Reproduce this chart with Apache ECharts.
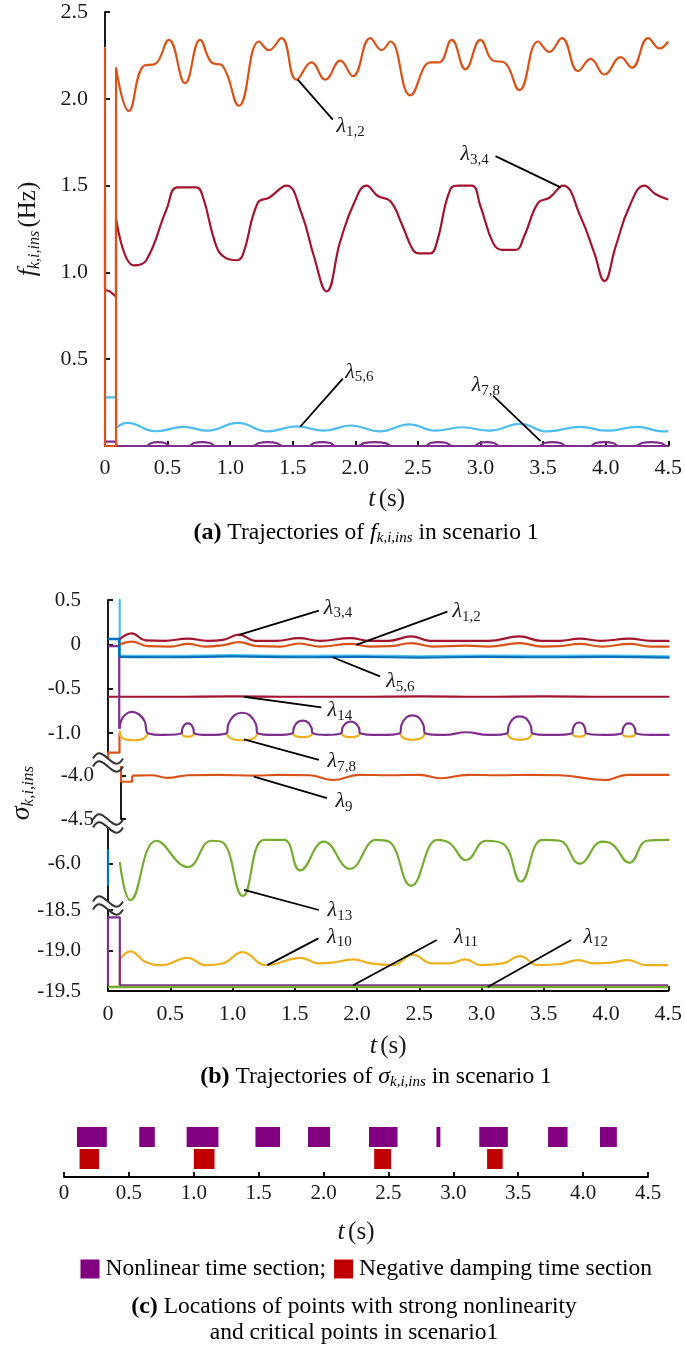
<!DOCTYPE html>
<html>
<head>
<meta charset="utf-8">
<script src="https://cdn.jsdelivr.net/npm/echarts@6/dist/echarts.min.js"></script>
<style>html,body{margin:0;padding:0;background:#fff}#c{width:685px;height:1348px}</style>
</head>
<body>
<div id="c"></div>
<script>
// ---------------- DATA ----------------
const timeTicks = [0, 0.5, 1.0, 1.5, 2.0, 2.5, 3.0, 3.5, 4.0, 4.5];
const fTicks = [0.5, 1.0, 1.5, 2.0, 2.5];
const sigTicksA = [0.5, 0, -0.5, -1.0];
const sigTicksB = [-4.0, -4.5];
const sigTicksC = [-6.0];
const sigTicksD = [-18.5, -19.0, -19.5];

// (a) f_{k,i,ins}
const f12Start = [[0,2.3],[0,0],[0.088,0],[0.088,2.18]];
const f12 = [[0.088,2.18],[0.19,1.93],[0.31,2.19],[0.40,2.20],[0.51,2.34],[0.64,2.09],[0.76,2.34],[0.85,2.21],[0.94,2.19],[1.07,1.96],[1.23,2.33],[1.31,2.28],[1.41,2.35],[1.53,2.11],[1.65,2.21],[1.76,2.11],[1.88,2.22],[1.98,2.13],[2.12,2.35],[2.21,2.28],[2.28,2.33],[2.44,2.02],[2.60,2.21],[2.67,2.21],[2.77,2.34],[2.88,2.17],[3.00,2.34],[3.10,2.22],[3.19,2.21],[3.31,2.05],[3.46,2.33],[3.55,2.27],[3.65,2.35],[3.78,2.16],[3.88,2.23],[3.99,2.14],[4.12,2.24],[4.21,2.18],[4.34,2.35],[4.43,2.29],[4.50,2.33]];
const f34Start = [[0,1.4],[0,0.9],[0.04,0.89],[0.088,0.86],[0.088,1.31]];
const f34 = [[0.088,1.31],[0.23,1.04],[0.33,1.07],[0.49,1.36],[0.58,1.49],[0.73,1.49],[0.78,1.44],[0.89,1.15],[0.96,1.085],[1.05,1.07],[1.10,1.10],[1.22,1.40],[1.31,1.43],[1.45,1.50],[1.57,1.34],[1.67,1.09],[1.77,0.89],[1.88,1.18],[1.99,1.40],[2.09,1.50],[2.18,1.44],[2.28,1.41],[2.37,1.28],[2.46,1.13],[2.51,1.11],[2.60,1.11],[2.65,1.17],[2.76,1.48],[2.83,1.50],[2.93,1.50],[3.00,1.38],[3.10,1.17],[3.17,1.13],[3.28,1.13],[3.35,1.21],[3.46,1.40],[3.55,1.43],[3.66,1.50],[3.80,1.32],[3.91,1.11],[3.99,0.95],[4.08,1.15],[4.19,1.38],[4.31,1.50],[4.40,1.45],[4.50,1.42]];
const f56Start = [[0,0.09],[0,0.28],[0.09,0.28],[0.09,0.105]];
const f56 = [[0.09,0.105],[0.18,0.133],[0.40,0.085],[0.63,0.11],[0.82,0.088],[1.06,0.133],[1.30,0.084],[1.53,0.113],[1.75,0.088],[1.96,0.118],[2.20,0.084],[2.43,0.125],[2.64,0.088],[2.85,0.108],[3.07,0.088],[3.32,0.127],[3.53,0.084],[3.80,0.11],[4.01,0.088],[4.25,0.11],[4.46,0.084],[4.50,0.086]];
const f78Start = [[0,0],[0,0.025],[0.09,0.025],[0.09,0]];
const f78Flat = [[0,0],[4.5,0]];
const f78 = [[0.09,0],[0.33,0],[0.37,0.017],[0.425,0.022],[0.48,0.017],[0.52,0],[0.67,0],[0.71,0.017],[0.775,0.022],[0.84,0.017],[0.88,0],[1.18,0],[1.23,0.017],[1.30,0.022],[1.37,0.017],[1.42,0],[1.63,0],[1.67,0.017],[1.735,0.022],[1.80,0.017],[1.84,0],[2.02,0],[2.07,0.017],[2.155,0.022],[2.24,0.017],[2.29,0],[2.56,0],[2.60,0.017],[2.665,0.022],[2.73,0.017],[2.77,0],[2.95,0],[2.99,0.017],[3.05,0.022],[3.11,0.017],[3.15,0],[3.47,0],[3.51,0.017],[3.575,0.022],[3.64,0.017],[3.68,0],[3.88,0],[3.92,0.017],[3.99,0.022],[4.06,0.017],[4.10,0],[4.24,0],[4.29,0.017],[4.365,0.022],[4.44,0.017],[4.49,0],[4.5,0]];

// (b) sigma_{k,i,ins} — segment A (0.5 .. -1.28)
const s34 = [[0.094,0.06],[0.19,0.125],[0.30,0.045],[0.45,0.04],[0.64,0.065],[0.80,0.04],[0.92,0.05],[1.05,0.11],[1.18,0.04],[1.35,0.04],[1.53,0.07],[1.70,0.04],[1.94,0.07],[2.10,0.04],[2.25,0.04],[2.43,0.09],[2.58,0.04],[2.85,0.04],[3.05,0.04],[3.30,0.09],[3.47,0.04],[3.62,0.04],[3.78,0.065],[3.95,0.04],[4.18,0.065],[4.35,0.04],[4.5,0.04]];
const s12 = [[0.094,0.0],[0.19,0.03],[0.32,-0.02],[0.50,-0.025],[0.64,0.005],[0.78,-0.025],[0.92,-0.01],[1.05,0.025],[1.20,-0.02],[1.38,-0.025],[1.53,0.01],[1.70,-0.025],[1.94,0.005],[2.10,-0.025],[2.27,-0.02],[2.43,0.015],[2.60,-0.025],[2.87,-0.015],[3.05,-0.025],[3.30,0.015],[3.48,-0.025],[3.62,-0.02],[3.78,0.005],[3.96,-0.025],[4.18,0.005],[4.35,-0.025],[4.5,-0.025]];
const s56Start = [[0,0.06],[0.09,0.06],[0.09,-0.14]];
const s56 = [[0.09,-0.14],[0.5,-0.145],[1.0,-0.135],[1.5,-0.145],[2.0,-0.14],[2.5,-0.15],[3.0,-0.14],[3.5,-0.145],[4.0,-0.14],[4.5,-0.15]];
const s56b = [[0.094,0.6],[0.094,-0.125],[0.5,-0.13],[1.0,-0.12],[1.5,-0.13],[2.0,-0.125],[2.5,-0.135],[3.0,-0.125],[3.5,-0.13],[4.0,-0.125],[4.5,-0.135]];
const s14 = [[0,-0.59],[0.5,-0.59],[1.0,-0.585],[1.5,-0.59],[2.0,-0.59],[2.5,-0.585],[3.0,-0.59],[3.5,-0.585],[4.0,-0.59],[4.5,-0.59]];
const s78Start = [[0,-0.02],[0.09,-0.02],[0.09,-0.95]];
const s78 = [
  [0.094,-0.95],[0.105,-0.86],[0.14,-0.79],[0.19,-0.76],[0.25,-0.79],[0.295,-0.87],[0.32,-1.0],[0.32,-1.0],
  [0.45,-1.02],
  [0.59,-1.0],[0.59,-1.0],[0.596,-0.95],[0.615,-0.903],[0.64,-0.89],[0.665,-0.903],[0.684,-0.95],[0.69,-1.0],[0.69,-1.0],
  [0.80,-1.02],
  [0.95,-1.0],[0.95,-1.0],[0.965,-0.897],[1.0125,-0.80],[1.075,-0.77],[1.1375,-0.80],[1.185,-0.897],[1.20,-1.0],[1.20,-1.0],
  [1.34,-1.02],
  [1.48,-1.0],[1.48,-1.0],[1.49,-0.937],[1.52,-0.877],[1.56,-0.86],[1.60,-0.877],[1.63,-0.937],[1.64,-1.0],[1.64,-1.0],
  [1.75,-1.02],
  [1.87,-1.0],[1.87,-1.0],[1.879,-0.94],[1.9075,-0.886],[1.945,-0.87],[1.9825,-0.886],[2.011,-0.94],[2.02,-1.0],[2.02,-1.0],
  [2.18,-1.02],
  [2.34,-1.0],[2.34,-1.0],[2.352,-0.91],[2.39,-0.824],[2.44,-0.80],[2.49,-0.824],[2.528,-0.91],[2.54,-1.0],[2.54,-1.0],
  [2.70,-1.02],[2.87,-0.99],[3.05,-1.02],
  [3.20,-1.0],[3.20,-1.0],[3.212,-0.915],[3.25,-0.833],[3.30,-0.81],[3.35,-0.833],[3.388,-0.915],[3.40,-1.0],[3.40,-1.0],
  [3.55,-1.02],
  [3.72,-1.0],[3.72,-1.0],[3.727,-0.946],[3.7475,-0.894],[3.775,-0.88],[3.8025,-0.894],[3.823,-0.946],[3.83,-1.0],[3.83,-1.0],
  [3.97,-1.02],
  [4.12,-1.0],[4.12,-1.0],[4.127,-0.95],[4.1475,-0.903],[4.175,-0.89],[4.2025,-0.903],[4.223,-0.95],[4.23,-1.0],[4.23,-1.0],
  [4.35,-1.02],[4.5,-1.02]];
const s78Low = [
  [0.094,-0.97],[0.11,-1.05],[0.16,-1.075],[0.21,-1.08],[0.27,-1.07],[0.30,-1.045],[0.32,-1.0],[0.45,'-'],
  [0.59,-1.0],[0.60,-1.025],[0.615,-1.037],[0.64,-1.04],[0.665,-1.037],[0.68,-1.025],[0.69,-1.0],[0.8,'-'],
  [0.95,-1.0],[0.975,-1.05],[1.025,-1.075],[1.075,-1.08],[1.125,-1.075],[1.175,-1.05],[1.20,-1.0],[1.3,'-'],
  [1.48,-1.0],[1.496,-1.028],[1.528,-1.042],[1.56,-1.045],[1.592,-1.042],[1.624,-1.028],[1.64,-1.0],[1.75,'-'],
  [1.87,-1.0],[1.885,-1.028],[1.915,-1.042],[1.945,-1.045],[1.975,-1.042],[2.005,-1.028],[2.02,-1.0],[2.2,'-'],
  [2.34,-1.0],[2.36,-1.047],[2.40,-1.07],[2.44,-1.075],[2.48,-1.07],[2.52,-1.047],[2.54,-1.0],[2.9,'-'],
  [3.20,-1.0],[3.22,-1.047],[3.26,-1.07],[3.30,-1.075],[3.34,-1.07],[3.38,-1.047],[3.40,-1.0],[3.55,'-'],
  [3.72,-1.0],[3.731,-1.025],[3.753,-1.037],[3.775,-1.04],[3.797,-1.037],[3.819,-1.025],[3.83,-1.0],[4.0,'-'],
  [4.12,-1.0],[4.131,-1.025],[4.153,-1.037],[4.175,-1.04],[4.197,-1.037],[4.219,-1.025],[4.23,-1.0]];
const s9StartA = [[0,-1.5],[0,-1.22],[0.092,-1.22],[0.092,-1.0]];
// segment B (-3.9 .. -4.5)
const s9Start = [[0,-3.85],[0,-4.07],[0.092,-4.07],[0.092,-4.0]];
const s9 = [[0.092,-4.0],[0.25,-3.995],[0.38,-4.025],[0.55,-3.995],[0.8,-3.99],[1.1,-4.0],[1.3,-3.99],[1.55,-3.995],[1.74,-4.05],[1.95,-3.99],[2.2,-3.995],[2.45,-3.99],[2.62,-4.03],[2.85,-3.99],[3.1,-3.995],[3.35,-3.99],[3.6,-3.995],[3.97,-4.05],[4.15,-3.99],[4.5,-3.99]];
// segment C (-5.58 .. -6.44)
const s56C = [[0,-5.83],[0,-6.26]];
const s13 = [[0.095,-5.98],[0.18,-6.43],[0.39,-5.73],[0.64,-6.04],[0.83,-5.73],[0.92,-5.75],[1.08,-6.38],[1.25,-5.72],[1.41,-5.72],[1.54,-6.08],[1.73,-5.74],[1.94,-6.06],[2.15,-5.72],[2.25,-5.74],[2.43,-6.26],[2.64,-5.72],[2.74,-5.76],[2.87,-5.96],[3.03,-5.73],[3.17,-5.77],[3.31,-6.21],[3.48,-5.72],[3.62,-5.73],[3.78,-6.0],[3.96,-5.74],[4.04,-5.77],[4.18,-5.99],[4.32,-5.73],[4.48,-5.72],[4.5,-5.72]];
// segment D (-18.5 .. -19.5)
const s10Start = [[0,-19.45],[0.095,-19.45],[0.095,-19.11]];
const s10 = [[0.095,-19.11],[0.18,-19.01],[0.30,-19.14],[0.43,-19.18],[0.64,-19.09],[0.78,-19.18],[0.92,-19.16],[1.08,-19.02],[1.27,-19.18],[1.55,-19.09],[1.69,-19.16],[1.80,-19.15],[1.97,-19.11],[2.11,-19.16],[2.29,-19.18],[2.45,-19.05],[2.60,-19.16],[2.74,-19.16],[2.87,-19.11],[2.99,-19.18],[3.17,-19.16],[3.31,-19.07],[3.45,-19.18],[3.62,-19.17],[3.78,-19.12],[3.90,-19.16],[4.04,-19.15],[4.18,-19.12],[4.32,-19.18],[4.5,-19.18]];
const s11 = [[0,-19.43],[0,-18.59],[0.095,-18.59],[0.095,-19.43],[4.5,-19.43]];
const s12D = [[0,-19.45],[4.5,-19.45]];

// annotations: [anchorT, anchorV, endT, endV, labelT, labelV]
const annotA = [[1.54,2.11,1.82,1.88,1.85,1.84],[3.64,1.49,3.12,1.67,2.84,1.68],[1.56,0.111,1.90,0.388,1.92,0.427],[3.48,0.028,3.10,0.29,2.93,0.35]];
const annotASub = ['1,2','3,4','5,6','7,8'];
const annotBA = [[1.05,0.107,1.69,0.38,1.73,0.41],[1.99,-0.006,2.72,0.37,2.76,0.37],[1.80,-0.145,2.18,-0.36,2.23,-0.42],[1.09,-0.59,1.71,-0.71,1.76,-0.74],[1.09,-1.07,1.69,-1.30,1.76,-1.32]];
const annotBASub = ['3,4','1,2','5,6','14','7,8'];
const annotBB = [[1.09,-4.01,1.69,-4.26,1.76,-4.30]];
const annotBBSub = ['9'];
const annotBC = [[1.09,-6.31,1.69,-6.546,1.76,-6.55]];
const annotBCSub = ['13'];
const annotBD = [[1.28,-19.18,1.69,-18.85,1.76,-18.83],[1.97,-19.43,2.64,-18.87,2.78,-18.83],[3.05,-19.45,3.72,-18.87,3.82,-18.83]];
const annotBDSub = ['10','11','12'];

// (c) sections [start, end] in s
const nonlinearSections = [[0.10,0.33],[0.58,0.70],[0.945,1.19],[1.475,1.665],[1.88,2.05],[2.35,2.57],[2.87,2.90],[3.20,3.42],[3.73,3.88],[4.13,4.26]];
const dampingSections = [[0.12,0.27],[1.00,1.16],[2.39,2.52],[3.26,3.38]];
const legendNames = ['Nonlinear time section;', 'Negative damping time section'];

// ---------------- STYLE / LAYOUT ----------------
const FONT = 'Liberation Serif';
const COL = {orange:'#D95319', darkred:'#A2142F', cyan:'#4DBEEE', blue:'#0072BD', purple:'#7E2F8E', yellow:'#EDB120', green:'#77AC30', txt:'#1a1a1a'};
const G = [
  {left:105, top:12, width:565, height:434},     // (a)
  {left:108, top:600, width:561.5, height:158},  // (b) A
  {left:108, top:767, width:561.5, height:52},   // (b) B
  {left:108, top:828, width:561.5, height:73},   // (b) C
  {left:108, top:910, width:561.5, height:81},   // (b) D
  {left:64, top:1117, width:584, height:60}      // (c)
];
const yRanges = [[0,2.5],[-1.28,0.5],[-4.5,-3.9],[-6.44,-5.58],[-19.5,-18.5],[0,3]];
const yTicks = [fTicks, sigTicksA, sigTicksB, sigTicksC, sigTicksD, null];

const fmt = v => (Math.abs(v) < 1e-9 ? '0' : v.toFixed(1));
const axisLineStyle = {color:'#000', width:1.8};

const nameRich = {
  i:{fontFamily:FONT, fontStyle:'italic', fontSize:26, color:COL.txt, lineHeight:30},
  r:{fontFamily:FONT, fontSize:25, color:COL.txt, lineHeight:30},
  s:{fontFamily:FONT, fontStyle:'italic', fontSize:16, color:COL.txt, verticalAlign:'bottom', lineHeight:14}
};
const lamRich = {
  l:{fontFamily:FONT, fontStyle:'italic', fontSize:22, fill:COL.txt, lineHeight:26},
  s:{fontFamily:FONT, fontSize:15, fill:COL.txt, verticalAlign:'bottom', lineHeight:12}
};

const xAxes = G.map((g, i) => {
  const shown = (i === 0 || i === 4 || i === 5);
  const ax = {type:'value', gridIndex:i, min:0, max:4.5, interval:0.5, show:shown,
    axisLine:{show:true, onZero:false, lineStyle:axisLineStyle},
    axisTick:{show:true, inside:true, length:5, lineStyle:axisLineStyle},
    axisLabel:{fontFamily:FONT, fontSize: i === 5 ? 21 : 22, color:COL.txt, margin: i === 0 ? 11 : (i === 4 ? 12 : 6), formatter:fmt,
      customValues: timeTicks},
    splitLine:{show:false}};
  if (shown) {
    ax.name = '{i|t} {r|(s)}';
    ax.nameLocation = 'middle';
    ax.nameGap = i === 0 ? 38 : 40;
    ax.nameTextStyle = {rich:nameRich};
  }
  return ax;
});

const yAxes = G.map((g, i) => {
  const ax = {type:'value', gridIndex:i, min:yRanges[i][0], max:yRanges[i][1], show: i !== 5,
    axisLine:{show:true, onZero:false, lineStyle:axisLineStyle},
    splitLine:{show:false}};
  if (i !== 5) {
    ax.axisTick = {show:true, inside:true, length:5, lineStyle:axisLineStyle, customValues:yTicks[i]};
    ax.axisLabel = {fontFamily:FONT, fontSize: i === 0 ? 22 : 21, color:COL.txt, margin: i === 0 ? 17 : 27, formatter:fmt, customValues:yTicks[i]};
  }
  if (i === 0) {
    ax.name = '{i|f}{s|k,i,ins} {r|(Hz)}';
    ax.nameLocation = 'middle'; ax.nameRotate = 90; ax.nameGap = 62;
    ax.nameTextStyle = {rich:nameRich};
  }
  if (i === 2) {
    ax.name = '{i|σ}{s|k,i,ins}';
    ax.nameLocation = 'middle'; ax.nameRotate = 90; ax.nameGap = 84;
    ax.nameTextStyle = {rich:{
      i:{fontFamily:FONT, fontStyle:'italic', fontSize:28, color:COL.txt, lineHeight:30},
      s:{fontFamily:FONT, fontStyle:'italic', fontSize:17, color:COL.txt, verticalAlign:'bottom', lineHeight:14}}};
  }
  return ax;
});

function line(data, gi, color, smooth, width) {
  return {type:'line', data, xAxisIndex:gi, yAxisIndex:gi, symbol:'none', showSymbol:false,
    smooth: smooth ? 0.45 : false, connectNulls:false, clip:true, silent:true,
    lineStyle:{color, width: width || 2.2}, itemStyle:{color}, z:3};
}

function annot(rows, subs, gi) {
  return {type:'custom', xAxisIndex:gi, yAxisIndex:gi, data:rows, silent:true, clip:false, z:10,
    encode:{x:[0,2,4], y:[1,3,5]},
    renderItem(params, api) {
      const a = api.coord([api.value(0), api.value(1)]);
      const b = api.coord([api.value(2), api.value(3)]);
      const c = api.coord([api.value(4), api.value(5)]);
      return {type:'group', children:[
        {type:'line', shape:{x1:a[0], y1:a[1], x2:b[0], y2:b[1]}, style:{stroke:'#000', lineWidth:1.8}},
        {type:'text', x:c[0], y:c[1], style:{text:'{l|λ}{s|' + subs[params.dataIndex] + '}', rich:lamRich, align:'left', verticalAlign:'middle'}}
      ]};
    }};
}

function sections(name, rows, color, yTop, yBot) {
  return {type:'custom', name, xAxisIndex:5, yAxisIndex:5, data:rows, silent:true, itemStyle:{color},
    encode:{x:[0,1]},
    renderItem(params, api) {
      const p0 = api.coord([api.value(0), yTop]);
      const p1 = api.coord([api.value(1), yBot]);
      return {type:'rect', shape:{x:p0[0], y:p0[1], width:p1[0]-p0[0], height:p1[1]-p0[1]}, style:{fill:color}};
    }};
}

const series = [
  // (a)
  line(f78Flat, 0, COL.purple, false),
  line(f78Start, 0, COL.purple, false),
  line(f78, 0, COL.purple, true),
  line(f56Start, 0, COL.cyan, false),
  line(f56, 0, COL.cyan, true),
  line(f34Start, 0, COL.darkred, false),
  line(f34, 0, COL.darkred, true),
  line(f12Start, 0, COL.orange, false),
  line(f12, 0, COL.orange, true),
  annot(annotA, annotASub, 0),
  // (b) A
  line(s9StartA, 1, COL.orange, false),
  line(s14, 1, COL.darkred, true),
  line(s78Low, 1, COL.yellow, true),
  line(s78Start, 1, COL.purple, false),
  line(s78, 1, COL.purple, true),
  line(s56b, 1, COL.cyan, true),
  line(s56Start, 1, COL.blue, false, 2.6),
  line(s56, 1, COL.blue, true),
  line(s12, 1, COL.orange, true),
  line(s34, 1, COL.darkred, true),
  annot(annotBA, annotBASub, 1),
  // (b) B
  line(s9Start, 2, COL.orange, false),
  line(s9, 2, COL.orange, true),
  annot(annotBB, annotBBSub, 2),
  // (b) C
  line(s56C, 3, COL.blue, false),
  line(s13, 3, COL.green, true),
  annot(annotBC, annotBCSub, 3),
  // (b) D
  line(s10Start, 4, COL.yellow, false),
  line(s10, 4, COL.yellow, true),
  line(s11, 4, COL.purple, false),
  line(s12D, 4, COL.green, false, 2.6),
  annot(annotBD, annotBDSub, 4),
  // (c)
  sections(legendNames[0], nonlinearSections, '#800080', 2.5, 1.5),
  sections(legendNames[1], dampingSections, '#C00000', 1.4, 0.4)
];

// axis-break marks on the (b) y axis, placed at the gaps between stacked grids
const graphics = [];
for (let k = 1; k <= 3; k++) {
  const cy = (G[k].top + G[k].height + G[k+1].top) / 2;
  const cx = G[k].left;
  [-4, 4].forEach(dy => graphics.push({type:'bezierCurve', z:100,
    shape:{x1:cx-15, y1:cy+dy, cpx1:cx-5, cpy1:cy+dy-18, cpx2:cx+5, cpy2:cy+dy+18, x2:cx+15, y2:cy+dy},
    style:{stroke:'#333', lineWidth:2, fill:'none'}}));
}

const capRich = {
  b:{fontFamily:FONT, fontWeight:'bold', fontSize:24, color:'#000', lineHeight:26},
  r:{fontFamily:FONT, fontWeight:'normal', fontSize:23.5, color:'#000', lineHeight:26},
  i:{fontFamily:FONT, fontWeight:'normal', fontStyle:'italic', fontSize:24, color:'#000', lineHeight:26},
  s:{fontFamily:FONT, fontWeight:'normal', fontStyle:'italic', fontSize:15, color:'#000', verticalAlign:'bottom', lineHeight:12}
};
const capText = {fontWeight:'normal', rich:capRich};

const option = {
  animation:false,
  backgroundColor:'#fff',
  grid: G.map(g => Object.assign({containLabel:false}, g)),
  xAxis: xAxes,
  yAxis: yAxes,
  title: [
    {text:'{b|(a)}{r| Trajectories of }{i|f}{s|k,i,ins}{r| in scenario 1}', left:366, top:520, textAlign:'center', padding:0, textStyle:capText},
    {text:'{b|(b)}{r| Trajectories of }{i|σ}{s|k,i,ins}{r| in scenario 1}', left:376, top:1064, textAlign:'center', padding:0, textStyle:capText},
    {text:'{b|(c)}{r| Locations of points with strong nonlinearity}\n{r|and critical points in scenario1}', left:354, top:1294, textAlign:'center', padding:0, textStyle:capText}
  ],
  legend: {data:legendNames, left:80.5, top:1252, padding:[5,5,5,0], icon:'rect', itemWidth:19, itemHeight:19, itemGap:8,
    selectedMode:false, textStyle:{fontFamily:FONT, fontSize:23.5, color:'#000', padding:[0,0,0,1]}},
  graphic: graphics,
  series
};

const chart = echarts.init(document.getElementById('c'), null, {renderer:'canvas', width:685, height:1348});
chart.setOption(option);
</script>
</body>
</html>
